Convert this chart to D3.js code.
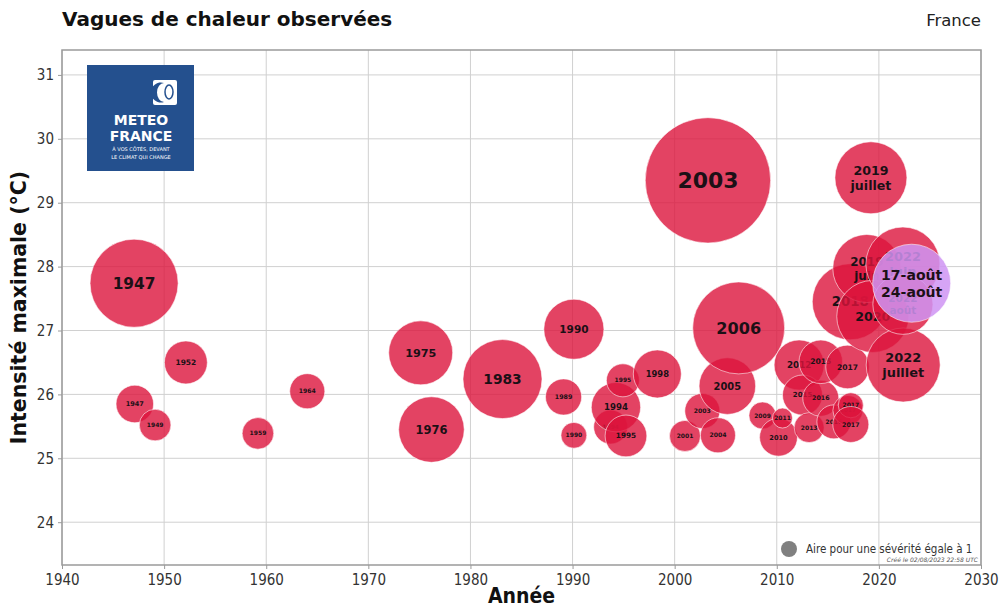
<!DOCTYPE html>
<html>
<head>
<meta charset="utf-8">
<script src="https://cdn.jsdelivr.net/npm/d3@7"></script>
<style>
  body { margin: 0; background: #fff; }
  svg { display: block; font-family: "DejaVu Sans", sans-serif; }
  .cond { font-family: "DejaVu Sans Condensed", "DejaVu Sans", sans-serif; font-stretch: condensed; }
</style>
</head>
<body>
<div class="canvas"></div>
<script>
// heat waves, in drawing order (each bubble is drawn with its label)
const waveLabels = [
  '1947', '1947', '1949', '1952', '1959', '1964', '1975', '1976', '1983', '1989',
  '1990', '1990', '1994', '1994', '1995', '1995', '1998', '2001', '2003', '2003',
  '2004', '2005', '2006', '2009', '2010', '2011', '2012', '2015', '2013', '2016',
  '2015', '2016', '2017', '2017', '2017', '2017', '2018', '2019\njuin', '2019\njuillet', '2020',
  '2022\njuin', '2022\njuillet', '2022\naoût', '17-août\n24-août'
];
const waveYears = [
  1947.13, 1947.06, 1949.12, 1952.13, 1959.19, 1964.02, 1975.13, 1976.18, 1983.14, 1989.12,
  1990.13, 1990.13, 1993.73, 1994.25, 1994.93, 1995.23, 1998.30, 2001.01, 2002.71, 2003.26,
  2004.24, 2005.16, 2006.27, 2008.60, 2010.17, 2010.56, 2012.19, 2012.52, 2013.17, 2014.31,
  2014.31, 2015.59, 2016.93, 2016.96, 2017.25, 2017.25, 2017.20, 2018.82, 2019.22, 2019.40,
  2022.35, 2022.38, 2022.35, 2023.21
];
const waveTemps = [
  25.85, 27.74, 25.52, 26.50, 25.39, 26.05, 26.65, 25.45, 26.24, 25.96,
  27.02, 25.36, 25.49, 25.80, 26.22, 25.35, 26.32, 25.35, 25.74, 29.35,
  25.36, 26.13, 27.04, 25.67, 25.33, 25.63, 26.46, 25.99, 25.48, 25.94,
  26.51, 25.57, 26.43, 25.75, 25.83, 25.53, 27.45, 27.97, 29.39, 27.22,
  28.04, 26.46, 27.41, 27.74
];
const waveSeverity = [
  5.5, 30.3, 3.9, 7.2, 3.9, 4.8, 16.0, 16.8, 24.4, 5.1,
  14.1, 2.6, 4.5, 9.5, 4.25, 6.8, 9.0, 3.75, 4.8, 61.4,
  4.8, 12.5, 33.0, 2.85, 5.6, 1.56, 9.8, 6.25, 3.5, 5.06,
  7.4, 4.5, 7.4, 3.5, 2.45, 5.06, 22.6, 18.1, 20.25, 20.25,
  21.4, 21.4, 14.1, 23.8
];
const ongoingLabel = '17-août\n24-août';

const xTickValues = [1940, 1950, 1960, 1970, 1980, 1990, 2000, 2010, 2020, 2030];
const yTickValues = [24, 25, 26, 27, 28, 29, 30, 31];

const data = waveLabels.map((label, i) => ({
  label, year: waveYears[i], temp: waveTemps[i], sev: waveSeverity[i]
}));

const dims = { width: 1003, height: 609 };
const margin = { left: 62, top: 50, right: 22, bottom: 44 };
const plotW = dims.width - margin.left - margin.right;
const plotH = dims.height - margin.top - margin.bottom;

const svg = d3.select('.canvas')
  .append('svg')
  .attr('width', dims.width)
  .attr('height', dims.height);

const x = d3.scaleLinear().domain([1940, 2030]).range([0, plotW]);
const y = d3.scaleLinear().domain([23.33, 31.39]).range([plotH, 0]);
// bubble area proportional to severity, severity 1 -> radius 8
const size = d3.scaleSqrt().domain([0, 1]).range([0, 8]);

const graph = svg.append('g')
  .attr('transform', `translate(${margin.left}, ${margin.top})`);

// grid
graph.append('g').selectAll('line')
  .data(xTickValues).enter().append('line')
  .attr('x1', d => x(d)).attr('x2', d => x(d))
  .attr('y1', 0).attr('y2', plotH)
  .attr('stroke', '#d0d0d0').attr('stroke-width', 1);
graph.append('g').selectAll('line')
  .data(yTickValues).enter().append('line')
  .attr('x1', 0).attr('x2', plotW)
  .attr('y1', d => y(d)).attr('y2', d => y(d))
  .attr('stroke', '#d0d0d0').attr('stroke-width', 1);

// Météo-France logo
const logo = graph.append('g').attr('transform', 'translate(25, 15)');
logo.append('rect').attr('width', 107).attr('height', 106).attr('fill', '#24508e');
logo.append('rect').attr('x', 66).attr('y', 15).attr('width', 24).attr('height', 25)
  .attr('rx', 2).attr('fill', '#fff');
logo.append('path')
  .attr('d', 'M77,18 A10,10 0 1,0 77,37 A7,9.5 0 0,1 77,18 Z')
  .attr('fill', '#24508e');
logo.append('ellipse').attr('cx', 82).attr('cy', 27).attr('rx', 4).attr('ry', 7)
  .attr('fill', 'none').attr('stroke', '#24508e').attr('stroke-width', 1.5);
logo.selectAll('text.big')
  .data(['METEO', 'FRANCE']).enter().append('text')
  .attr('x', 54).attr('y', (d, i) => 60 + i * 16)
  .attr('text-anchor', 'middle').attr('fill', '#fff')
  .attr('font-weight', 'bold').attr('font-size', 14)
  .text(d => d);
logo.selectAll('text.small')
  .data(['À VOS CÔTÉS, DEVANT', 'LE CLIMAT QUI CHANGE']).enter().append('text')
  .attr('x', 54).attr('y', (d, i) => 86 + i * 8)
  .attr('text-anchor', 'middle').attr('fill', '#fff')
  .attr('font-size', 5)
  .text(d => d);

// bubbles, each followed by its label
const bubbles = graph.append('g').selectAll('g')
  .data(data).enter().append('g')
  .attr('transform', d => `translate(${x(d.year)}, ${y(d.temp)})`);

bubbles.append('circle')
  .attr('r', d => size(d.sev))
  .attr('fill', d => d.label === ongoingLabel ? '#cf94f3' : 'crimson')
  .attr('fill-opacity', d => d.label === ongoingLabel ? 0.85 : 0.8)
  .attr('stroke', '#fff').attr('stroke-opacity', 0.7).attr('stroke-width', 0.8);

bubbles.append('text')
  .attr('text-anchor', 'middle')
  .attr('font-weight', 'bold')
  .attr('font-size', d => Math.max(6, size(d.sev) * (d.label === ongoingLabel ? 0.36 : 0.35)))
  .attr('fill', '#1c1016')
  .each(function(d) {
    const lines = d.label.split('\n');
    d3.select(this).selectAll('tspan')
      .data(lines).enter().append('tspan')
      .attr('x', 0)
      .attr('dy', (l, i) => i === 0 ? `${0.35 - (lines.length - 1) * 0.6}em` : '1.2em')
      .text(l => l);
  });

// frame
graph.append('rect')
  .attr('width', plotW).attr('height', plotH)
  .attr('fill', 'none').attr('stroke', '#9a9a9a').attr('stroke-width', 1.5);

// axes
const xAxis = d3.axisBottom(x).tickValues(xTickValues).tickFormat(d3.format('d'))
  .tickSize(4).tickPadding(5);
const yAxis = d3.axisLeft(y).tickValues(yTickValues).tickSize(4).tickPadding(4);

const gx = graph.append('g').attr('transform', `translate(0, ${plotH})`).call(xAxis);
const gy = graph.append('g').call(yAxis);
[gx, gy].forEach(g => {
  g.select('.domain').remove();
  g.selectAll('line').attr('stroke', '#9a9a9a');
  g.selectAll('text').attr('fill', '#333').attr('font-size', 15)
    .attr('class', 'cond');
});

// legend
const legend = graph.append('g')
  .attr('transform', `translate(${plotW - 192}, ${plotH - 16})`);
legend.append('circle').attr('r', size(1)).attr('fill', '#808080');
legend.append('text').attr('x', 17).attr('y', 4)
  .attr('font-size', 11.5).attr('fill', '#333').attr('class', 'cond')
  .text('Aire pour une sévérité égale à 1');
graph.append('text')
  .attr('x', plotW - 3).attr('y', plotH - 3)
  .attr('text-anchor', 'end').attr('font-size', 6).attr('fill', '#555')
  .attr('font-style', 'italic')
  .text('Créé le 02/08/2023 22:58 UTC');

// titles
svg.append('text')
  .attr('x', margin.left).attr('y', 26)
  .attr('font-size', 20).attr('font-weight', 'bold').attr('fill', '#111')
  .text('Vagues de chaleur observées');
svg.append('text')
  .attr('x', margin.left + plotW).attr('y', 26)
  .attr('text-anchor', 'end')
  .attr('font-size', 16.5).attr('fill', '#222')
  .text('France');
svg.append('text').attr('class', 'cond')
  .attr('x', margin.left + plotW / 2).attr('y', 603)
  .attr('text-anchor', 'middle')
  .attr('font-size', 21).attr('font-weight', 'bold').attr('fill', '#111')
  .text('Année');
svg.append('text')
  .attr('transform', `translate(26, ${margin.top + plotH / 2}) rotate(-90)`)
  .attr('text-anchor', 'middle')
  .attr('font-size', 20.5).attr('font-weight', 'bold').attr('fill', '#111')
  .text('Intensité maximale (°C)');
</script>
</body>
</html>
